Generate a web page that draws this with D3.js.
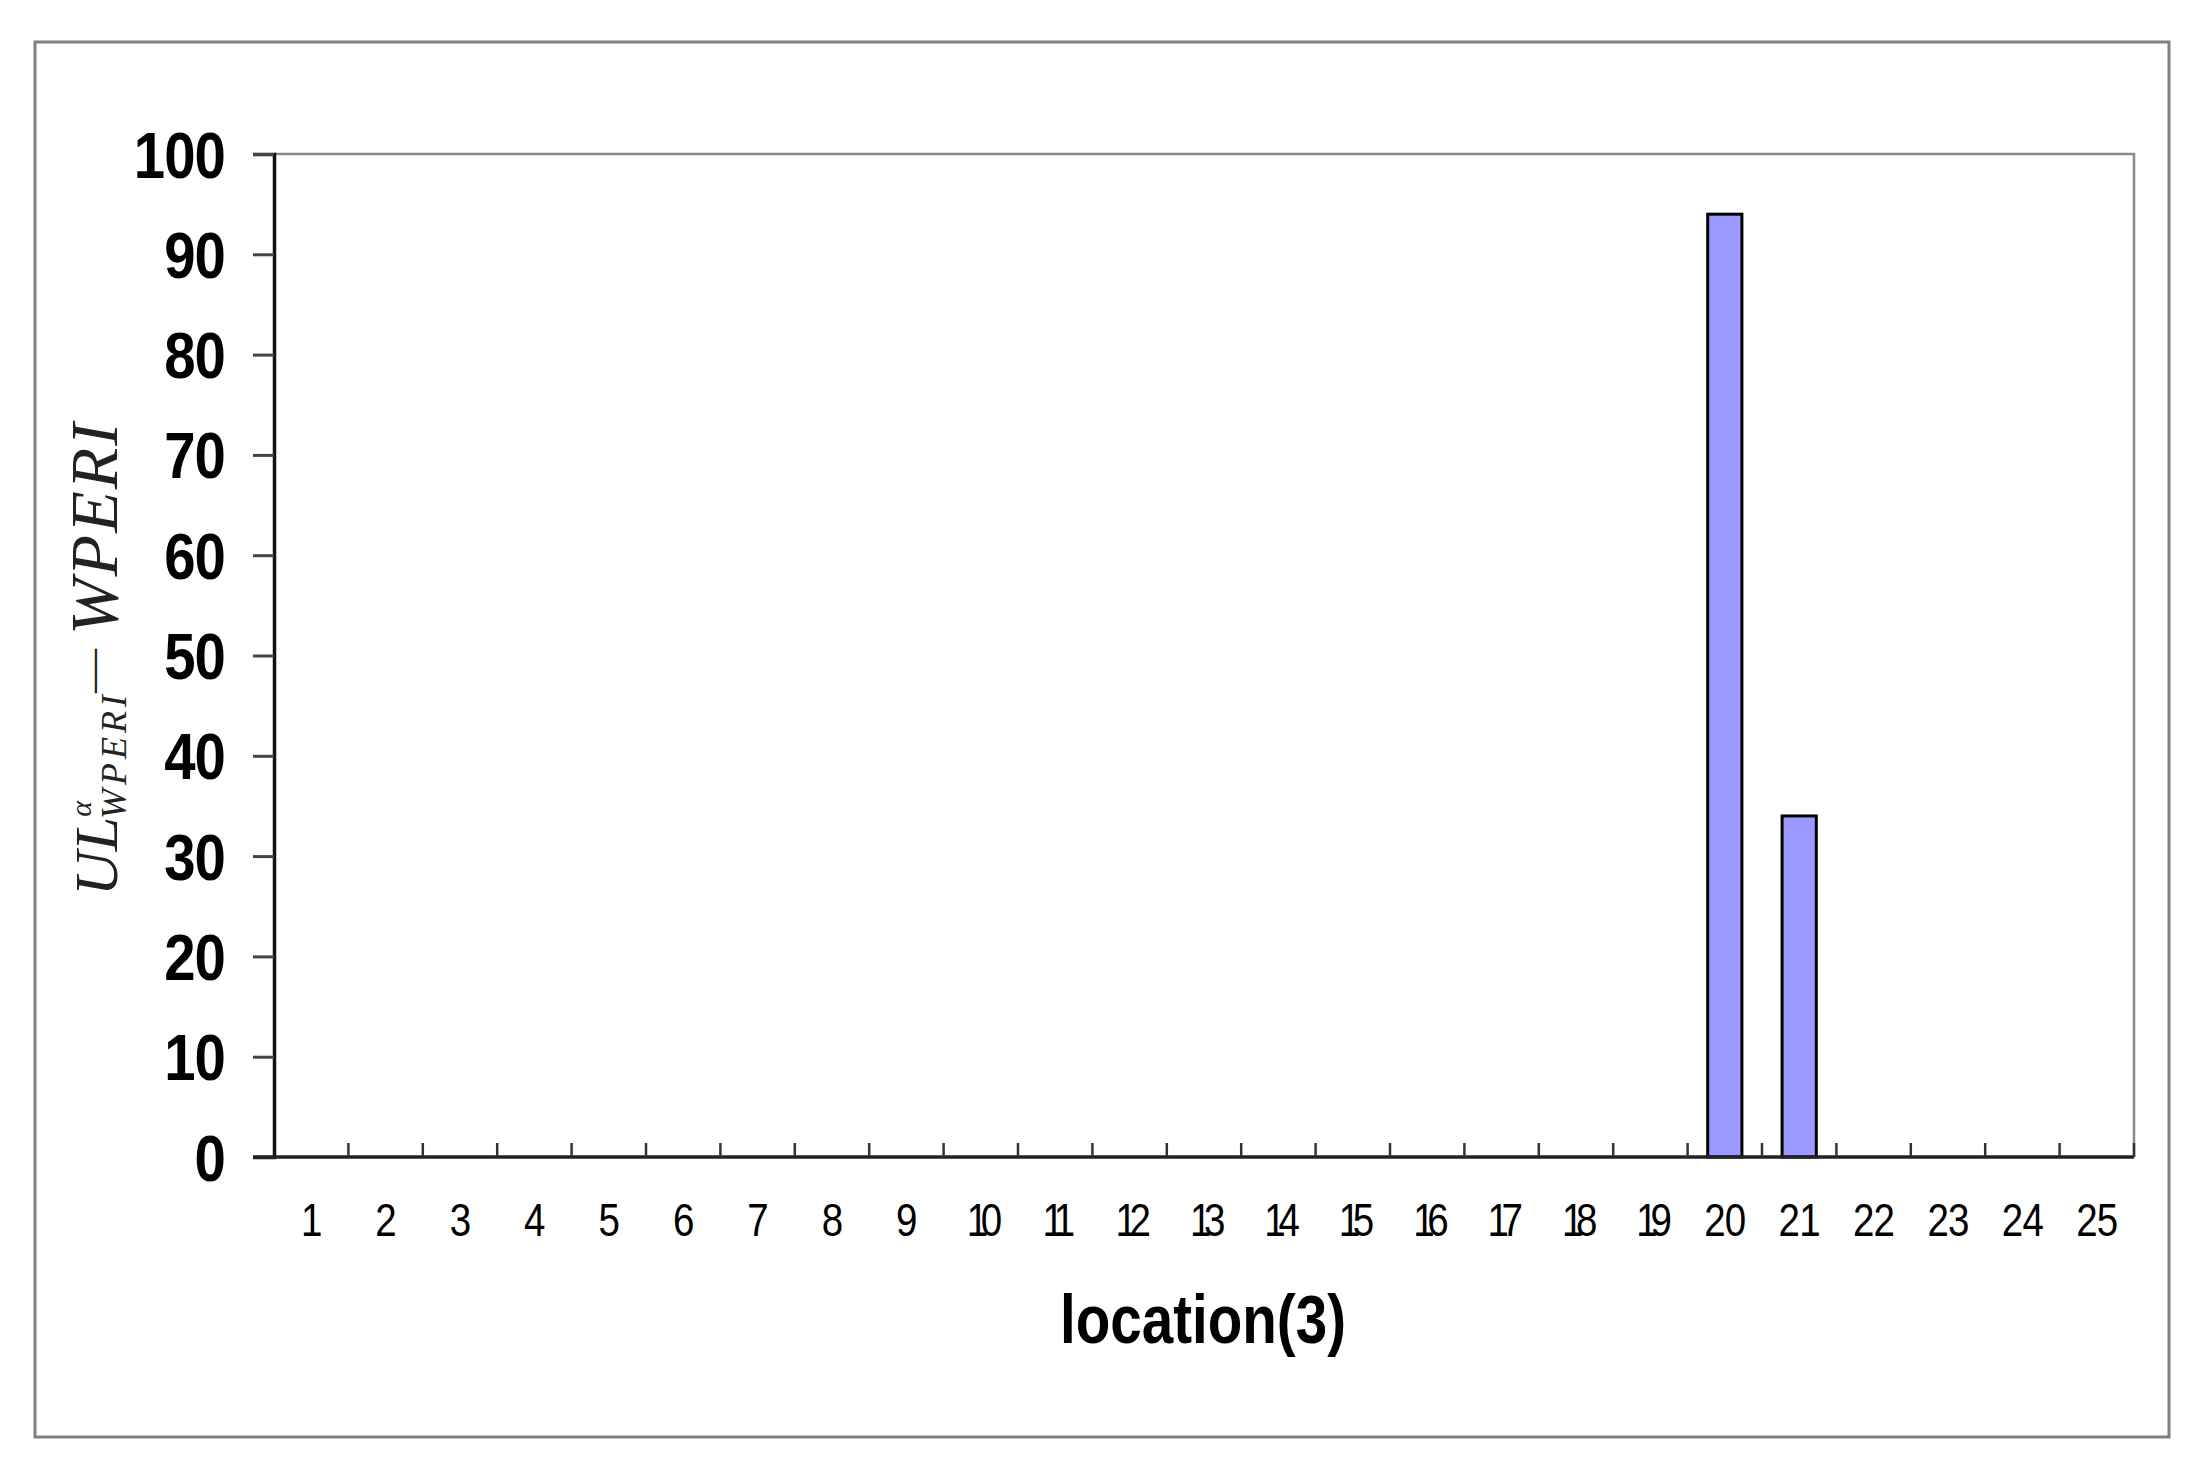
<!DOCTYPE html>
<html>
<head>
<meta charset="utf-8">
<script src="https://cdn.jsdelivr.net/npm/d3@7"></script>
<style>
  body { margin: 0; background: #fff; }
  text { font-family: "Liberation Sans", Arial, sans-serif; }
</style>
</head>
<body>
<div id="svg-container"></div>
<script>
// chart data
var locations = d3.range(1, 26).map(String);
var values = [0, 0, 0, 0, 0, 0, 0, 0, 0, 0, 0, 0, 0, 0, 0, 0, 0, 0, 0, 94, 34, 0, 0, 0, 0];
var yTicks = [0, 10, 20, 30, 40, 50, 60, 70, 80, 90, 100];
var xTitle = "location(3)";

// dimensions
var W = 2211, H = 1473;
var margin = {top: 154, right: 77, bottom: 316, left: 274},
  width = W - margin.left - margin.right,
  height = H - margin.top - margin.bottom;

var root = d3.select("#svg-container")
  .append("svg")
  .attr("width", W)
  .attr("height", H);

// outer frame
root.append("rect")
  .attr("x", 35).attr("y", 42)
  .attr("width", 2134).attr("height", 1395)
  .attr("fill", "none")
  .attr("stroke", "#7f7f7f")
  .attr("stroke-width", 3);

var svg = root.append("g")
  .attr("transform", "translate(" + margin.left + "," + margin.top + ")");

// scales
var x = d3.scaleBand()
  .domain(locations)
  .range([0, width])
  .paddingInner(0.54)
  .paddingOuter(0.27);

var y = d3.scaleLinear()
  .domain([0, 100])
  .range([height, 0]);

// plot frame top + right (grey)
svg.append("path")
  .attr("d", "M0,0H" + width + "V" + height)
  .attr("fill", "none")
  .attr("stroke", "#8a8a8a")
  .attr("stroke-width", 2.5);

// bars
svg.selectAll(".bar")
  .data(values.map(function(v, i) { return {loc: locations[i], value: v}; }).filter(function(d) { return d.value > 0; }))
  .enter()
  .append("rect")
  .attr("class", "bar")
  .attr("x", function(d) { return x(d.loc); })
  .attr("y", function(d) { return y(d.value); })
  .attr("width", x.bandwidth())
  .attr("height", function(d) { return height - y(d.value); })
  .attr("fill", "#9999ff")
  .attr("stroke", "#000")
  .attr("stroke-width", 3);

// y axis
var yAxis = svg.append("g")
  .call(d3.axisLeft(y).tickValues(yTicks).tickSize(21).tickPadding(0));
yAxis.select(".domain").attr("stroke", "#111").attr("stroke-width", 3.5);
yAxis.selectAll(".tick line").attr("stroke", "#444").attr("stroke-width", 3);
yAxis.selectAll(".tick text").remove();
yAxis.selectAll(".tick").append("text")
  .attr("x", -49 / 0.88)
  .attr("dy", "0.36em")
  .attr("text-anchor", "end")
  .attr("transform", "scale(0.88,1)")
  .attr("fill", "#000")
  .style("font-size", "64px")
  .style("font-weight", "bold")
  .style("letter-spacing", "-1px")
  .text(function(d) { return d; });

// x axis line
svg.append("line")
  .attr("x1", -21).attr("x2", width)
  .attr("y1", height).attr("y2", height)
  .attr("stroke", "#222")
  .attr("stroke-width", 3.5);

// x boundary ticks (pointing up)
svg.selectAll(".xtick")
  .data(locations)
  .enter()
  .append("line")
  .attr("x1", function(d) { return x(d) + x.bandwidth() / 2 + x.step() / 2; })
  .attr("x2", function(d) { return x(d) + x.bandwidth() / 2 + x.step() / 2; })
  .attr("y1", height)
  .attr("y2", height - 14)
  .attr("stroke", "#333")
  .attr("stroke-width", 2.5);

// x labels
svg.selectAll(".xlab")
  .data(locations)
  .enter()
  .append("text")
  .attr("transform", function(d) {
    return "translate(" + (x(d) + x.bandwidth() / 2) + "," + (height + 79) + ") scale(0.82,1)";
  })
  .attr("text-anchor", "middle")
  .style("font-size", "47px")
  .style("letter-spacing", function(d) { return d.length > 1 && d[0] === "1" ? "-9px" : "-1px"; })
  .attr("fill", "#000")
  .text(function(d) { return d; });

// x title
root.append("text")
  .attr("transform", "translate(1203,1343) scale(0.82,1)")
  .attr("text-anchor", "middle")
  .style("font-size", "69px")
  .style("font-weight", "bold")
  .attr("fill", "#000")
  .text(xTitle);

// y title: UL^α_WPERI — WPERI (rotated)
var yt = root.append("text")
  .attr("transform", "translate(117,896) rotate(-90)")
  .attr("text-anchor", "start")
  .style("font-family", "'Liberation Serif', 'Times New Roman', serif")
  .style("font-style", "italic")
  .attr("fill", "#222");
yt.append("tspan").style("font-size", "62px").text("UL");
yt.append("tspan").style("font-size", "30px").attr("dy", -26).text("α");
yt.append("tspan").style("font-size", "36px").style("letter-spacing", "4px")
  .attr("dx", -18).attr("dy", 35).text("WPERI");
yt.append("tspan").style("font-size", "44px").style("font-style", "normal")
  .attr("dx", -2).attr("dy", -20).text("—");
yt.append("tspan").style("font-size", "68px").style("letter-spacing", "2px")
  .attr("dx", 14).attr("dy", 11).text("WPERI");
</script>
</body>
</html>
